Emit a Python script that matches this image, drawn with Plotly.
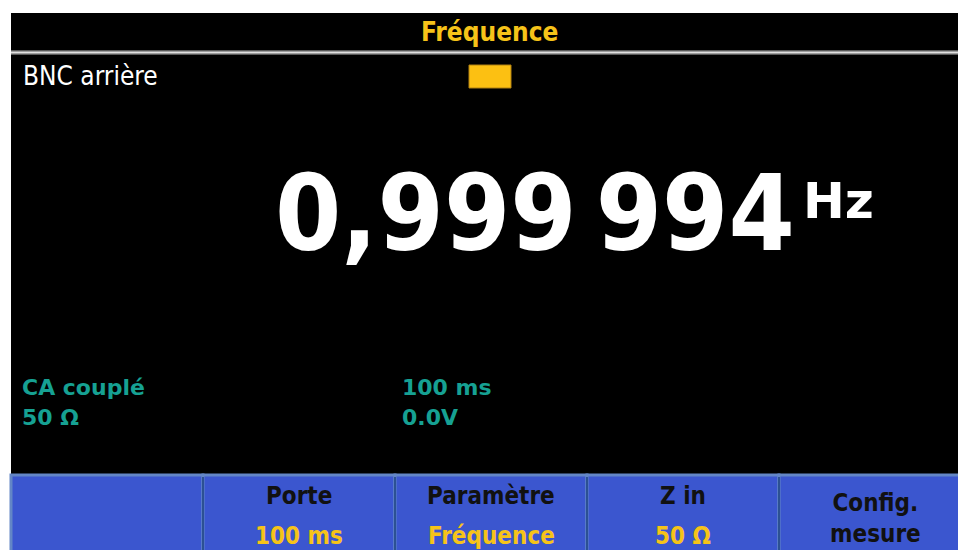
import plotly.graph_objects as go

# ---- data ----
header_title = "Fréquence"
channel_label = "BNC arrière"
reading_value = "0,999\u2009994"
reading_unit = "Hz"
status_left = ["CA couplé", "50 Ω"]
status_right = ["100 ms", "0.0V"]
button_titles = ["", "Porte", "Paramètre", "Z in", "Config.<br>mesure"]
button_values = ["", "100 ms", "Fréquence", "50 Ω", ""]

W, H = 958, 550
COND = "DejaVu Sans Condensed, DejaVu Sans, sans-serif"
BOLD = "DejaVu Sans, sans-serif"
YELLOW = "#f6c319"
TEAL = "#16a193"

fig = go.Figure()
fig.add_trace(go.Scatter(x=[0], y=[0], mode="markers", marker=dict(opacity=0), hoverinfo="skip", showlegend=False))

shapes = []
shapes.append(dict(type="rect", x0=11, x1=W, y0=13, y1=475, fillcolor="#000000", line=dict(width=0), layer="below"))
shapes.append(dict(type="rect", x0=11, x1=W, y0=50, y1=55, fillcolor="#5a5a5a", line=dict(width=0)))
shapes.append(dict(type="rect", x0=11, x1=W, y0=51.5, y1=53.5, fillcolor="#e0e0e0", line=dict(width=0)))
shapes.append(dict(type="rect", x0=469, x1=511, y0=65, y1=88, fillcolor="#fcc012", line=dict(color="#b08010", width=1)))

annotations = []
annotations.append(dict(x=489, y=32, text="<b>" + header_title + "</b>", showarrow=False,
                        font=dict(family=COND, size=26, color=YELLOW), xanchor="center", yanchor="middle"))
annotations.append(dict(x=21, y=76, text=channel_label, showarrow=False,
                        font=dict(family=COND, size=26, color="#ffffff"), xanchor="left", yanchor="middle"))
annotations.append(dict(x=273, y=213, text="<b>" + reading_value + "</b>", showarrow=False,
                        font=dict(family=COND, size=106, color="#ffffff"), xanchor="left", yanchor="middle"))
annotations.append(dict(x=801, y=201, text="<b>" + reading_unit + "</b>", showarrow=False,
                        font=dict(family=BOLD, size=50, color="#ffffff"), xanchor="left", yanchor="middle"))

for i, t in enumerate(status_left):
    annotations.append(dict(x=20, y=387 + 30 * i, text="<b>" + t + "</b>", showarrow=False,
                            font=dict(family=BOLD, size=22, color=TEAL), xanchor="left", yanchor="middle"))
for i, t in enumerate(status_right):
    annotations.append(dict(x=400, y=387 + 30 * i, text="<b>" + t + "</b>", showarrow=False,
                            font=dict(family=BOLD, size=22, color=TEAL), xanchor="left", yanchor="middle"))

BW = 192
BFS = 24
for i, (t, v) in enumerate(zip(button_titles, button_values)):
    x0 = 11 + i * BW
    x1 = x0 + BW
    shapes.append(dict(type="rect", x0=x0, x1=x1, y0=475, y1=H + 5, fillcolor="#3b56cf",
                       line=dict(color="#6386c6", width=3)))
    if i > 0:
        shapes.append(dict(type="line", x0=x0, x1=x0, y0=477, y1=H, line=dict(color="#2c5192", width=2)))
    cx = x0 + BW / 2
    if "<br>" in t:
        annotations.append(dict(x=cx, y=518, text="<b>" + t + "</b>", showarrow=False,
                                font=dict(family=COND, size=BFS, color="#111111"), xanchor="center", yanchor="middle"))
    elif t:
        annotations.append(dict(x=cx, y=496, text="<b>" + t + "</b>", showarrow=False,
                                font=dict(family=COND, size=BFS, color="#111111"), xanchor="center", yanchor="middle"))
    if v:
        annotations.append(dict(x=cx, y=536, text="<b>" + v + "</b>", showarrow=False,
                                font=dict(family=COND, size=BFS, color=YELLOW), xanchor="center", yanchor="middle"))

fig.update_layout(
    width=W, height=H, margin=dict(l=0, r=0, t=0, b=0),
    paper_bgcolor="#ffffff", plot_bgcolor="#ffffff",
    xaxis=dict(range=[0, W], visible=False, fixedrange=True),
    yaxis=dict(range=[H, 0], visible=False, fixedrange=True),
    shapes=shapes, annotations=annotations, showlegend=False,
)
fig.write_html("out.html", config={"displayModeBar": False},
               post_script="document.body.style.margin='0';")
